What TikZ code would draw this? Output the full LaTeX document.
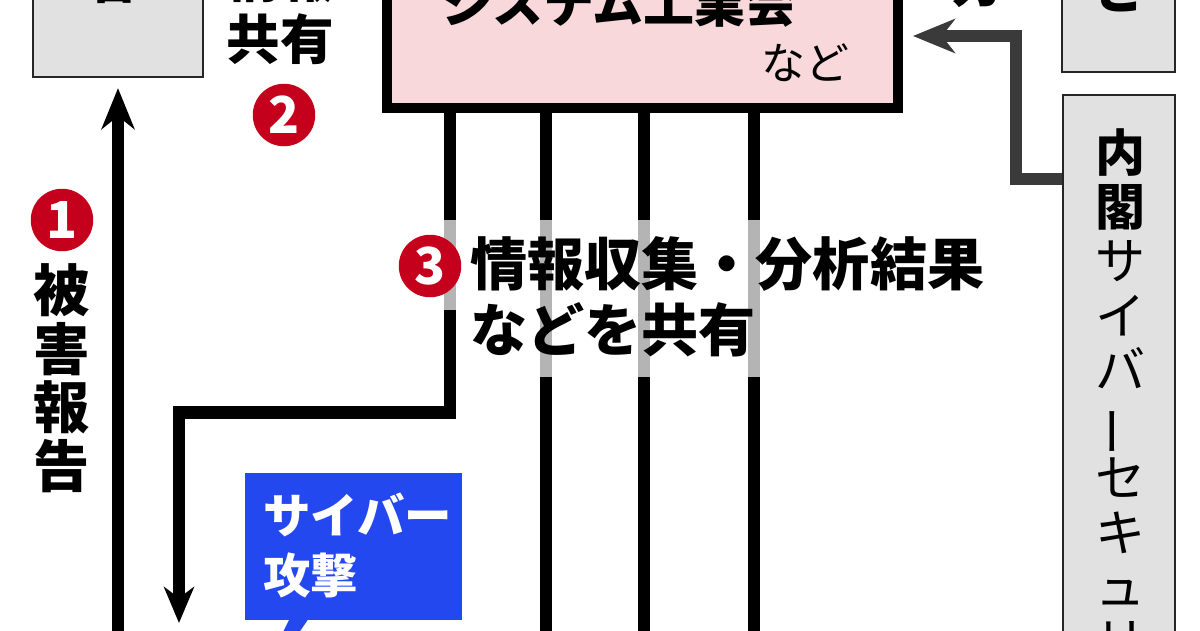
\documentclass[tikz,border=0pt]{standalone}
\usepackage{fontspec}
\setmainfont{Noto Sans CJK JP}
\usepackage{graphicx}
\usetikzlibrary{arrows.meta}
\definecolor{pinkfill}{HTML}{F8D8DB}
\definecolor{boxgray}{HTML}{E1E1E1}
\definecolor{bluebox}{HTML}{2448F0}
\definecolor{redcirc}{HTML}{C4001C}
\definecolor{segray}{HTML}{B4B4B4}
\definecolor{darkconn}{HTML}{3A3A3A}
\tikzset{
  thickline/.style={line width=7pt, black},
  grayseg/.style={line width=7pt, segray},
  darkline/.style={line width=6.8pt, darkconn},
  graybox/.style={draw=black!85, line width=1.3pt, fill=boxgray, inner sep=0pt},
  pinkbox/.style={draw=black, line width=5.7pt, fill=pinkfill, inner sep=0pt},
  numcirc/.style={circle, fill=redcirc, text=white, inner sep=0pt, minimum size=1.25cm,
    font=\bfseries\fontsize{29}{29}\selectfont},
  bigtxt/.style={inner sep=0pt, font=\bfseries\fontsize{32.5}{35}\selectfont},
  midtxt/.style={inner sep=0pt, font=\bfseries\fontsize{30.5}{33}\selectfont},
  vtxt/.style={inner sep=0pt, align=center, font=\bfseries\fontsize{32}{33.5}\selectfont},
  vtxtb/.style={inner sep=0pt, align=center, font=\fontsize{28.5}{30.9}\selectfont},
  whitetxt/.style={inner sep=0pt, text=white, font=\bfseries\fontsize{27}{34}\selectfont},
  smalltxt/.style={inner sep=0pt, font=\fontsize{25}{25}\selectfont},
  headup/.style={-{Stealth[length=0.82cm, width=0.66cm, inset=0.26cm]}},
  headdown/.style={-{Stealth[length=0.72cm, width=0.6cm, inset=0.22cm]}},
  headgray/.style={-{Stealth[length=0.84cm, width=0.68cm, inset=0.26cm]}},
}
\begin{document}
\begin{tikzpicture}[x=0.02cm, y=-0.02cm]
\useasboundingbox (0,0) rectangle (1200,630);
\fill[white] (0,0) rectangle (1200,630);
\clip (0,0) rectangle (1200,630);

% boxes
\node[graybox, minimum width=3.4cm, minimum height=1.94cm] (tlbox) at (118,28.5) {};
\node[midtxt] (tlchar) at (112,-22) {省};
\node[pinkbox, minimum width=10.22cm, minimum height=3.36cm] (kogyo) at (642.5,24) {};
\node[bigtxt, font=\bfseries\fontsize{29}{29}\selectfont, anchor=east] (kogyotxt) at (797,3) {システム工業会};
\node[smalltxt] (nado) at (805,63) {など};
\node[graybox, minimum width=2.26cm, minimum height=1.84cm] (trbox) at (1118.5,26) {};
\node[midtxt, font=\bfseries\fontsize{29}{29}\selectfont] (trchar) at (1120,-12) {ど};
\node[graybox, minimum width=2.24cm, minimum height=11.3cm] (naikaku) at (1119,377.5) {};
\node[vtxtb, anchor=north] (naikakutxt) at (1121,128)
  {\textbf{内}\\\textbf{閣}\\サ\\イ\\バ\\\rotatebox[origin=c]{90}{ー}\\セ\\キ\\ュ\\リ};

% labels
\node[midtxt] (johotop) at (280,-23) {情報};
\node[midtxt] (kyoyu) at (280,39) {共有};
\node[numcirc] (n2) at (284,115) {2};
\node[numcirc] (n1) at (62,220) {1};
\node[vtxt, anchor=north] (higai) at (62,263) {被\\害\\報\\告};
\node[midtxt, font=\bfseries\fontsize{29}{29}\selectfont] (chikara) at (977,-17) {力};

% vertical connectors from the industry box
\coordinate (x1) at (450,0);
\coordinate (x2) at (546,0);
\coordinate (x3) at (644,0);
\coordinate (x4) at (754,0);
\coordinate (bottomc) at (0,645);
\coordinate (bendA) at (450,412.5);
\coordinate (bendB) at (179,412.5);
\coordinate (tipdown) at (179,623);
\draw[thickline, headdown] (kogyo.south -| x1) -- (bendA) -- (bendB) -- (tipdown);
\draw[thickline] (kogyo.south -| x2) -- (x2 |- bottomc);
\draw[thickline] (kogyo.south -| x3) -- (x3 |- bottomc);
\draw[thickline] (kogyo.south -| x4) -- (x4 |- bottomc);
\draw[grayseg] (450,220) -- (450,310);
\draw[grayseg] (546,220) -- (546,377);
\draw[grayseg] (644,220) -- (644,377);
\draw[grayseg] (754,220) -- (754,377);

% damage report arrow
\coordinate (upstart) at (118,645);
\draw[thickline, line width=6.3pt, headup, shorten >=0.2cm] (upstart) -- (tlbox.south);

% cabinet arrow
\coordinate (g1) at (1016,179);
\coordinate (g2) at (1016,36);
\draw[darkline, headgray, shorten >=0.2cm] (naikaku.west |- g1) -- (g1) -- (g2) -- (kogyo.east |- g2);

% 3 label
\node[numcirc] (n3) at (430,266) {3};
\node[bigtxt, anchor=west] (joho1) at (470,264) {情報収集・分析結果};
\node[bigtxt, anchor=west] (joho2) at (470,330) {などを共有};

% cyber attack bubble
\fill[bluebox] (290,618) -- (309,618) -- (294,640) -- (279,640) -- cycle;
\node[fill=bluebox, minimum width=4.34cm, minimum height=2.94cm, inner sep=0pt] (cyber) at (353.5,546.5) {};
\node[whitetxt, anchor=west] (cyb1) at (263,515) {サイバー};
\node[whitetxt, anchor=west] (cyb2) at (263,575) {攻撃};
\end{tikzpicture}
\end{document}
